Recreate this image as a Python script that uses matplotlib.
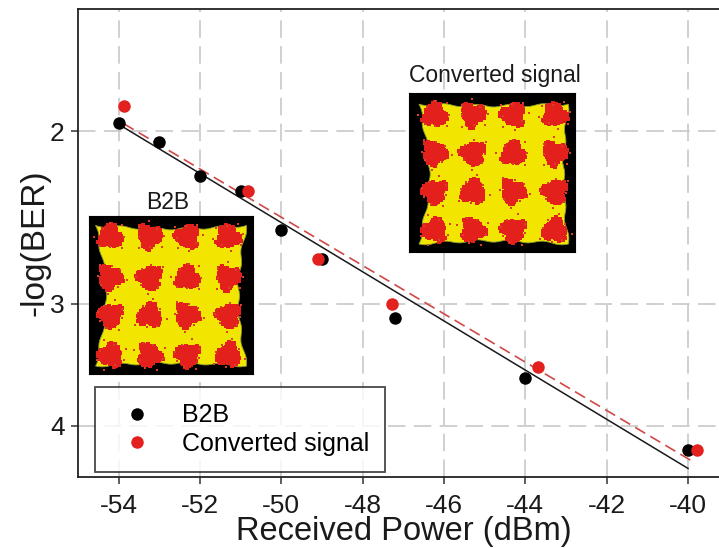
import numpy as np
import matplotlib
matplotlib.use('Agg')
import matplotlib.pyplot as plt
from matplotlib.patches import Polygon
from matplotlib.ticker import FixedLocator, FixedFormatter, NullLocator

# ---------------- data ----------------
b2b_power = [-54.0, -53.0, -52.0, -51.0, -50.0, -49.0, -47.2, -44.0, -40.0]
b2b_logber = [1.96, 2.05, 2.22, 2.30, 2.52, 2.70, 3.10, 3.57, 4.23]
conv_power = [-53.88, -50.81, -49.09, -47.29, -43.69, -39.79]
conv_logber = [1.886, 2.30, 2.70, 3.00, 3.485, 4.23]
b2b_fit_power = [-53.96, -40.0]
b2b_fit_logber = [1.972, 4.42]
conv_fit_power = [-53.88, -39.88]
conv_fit_logber = [1.964, 4.35]
xticks = [-54, -52, -50, -48, -46, -44, -42, -40]
yticks = [2, 3, 4]
ytick_labels = ['2', '3', '4']
series_labels = ['B2B', 'Converted signal']

plt.rcParams['font.family'] = ['Liberation Sans', 'DejaVu Sans']

W, H = 719, 548
fig = plt.figure(figsize=(W / 100, H / 100), dpi=100)
fig.patch.set_facecolor('white')

# main axes (extends slightly past the right edge, like the reference)
ax_l, ax_r, ax_t, ax_b = 78, 728.7, 9, 477
ax = fig.add_axes([ax_l / W, (H - ax_b) / H, (ax_r - ax_l) / W, (ax_b - ax_t) / H])

ax.set_yscale('log')
ax.set_xlim(-55, -39)
ax.set_ylim(4.51, 1.50)

ax.plot(b2b_fit_power, b2b_fit_logber, color='#1a1a1a', lw=1.1, zorder=3)
ax.plot(conv_fit_power, conv_fit_logber, color='#d04848', lw=1.2,
        linestyle=(0, (7, 3.5)), zorder=3)
ax.plot(b2b_power, b2b_logber, 'o', color='black', ms=9, mec='black', mew=0,
        zorder=4, label=series_labels[0])
ax.plot(conv_power, conv_logber, 'o', color='#e3211f', ms=9, mew=0,
        zorder=5, label=series_labels[1])

ax.xaxis.set_major_locator(FixedLocator(xticks))
ax.set_xticklabels([str(v) for v in xticks])
ax.yaxis.set_major_locator(FixedLocator(yticks))
ax.yaxis.set_major_formatter(FixedFormatter(ytick_labels))
ax.yaxis.set_minor_locator(NullLocator())

ax.grid(True, color='#c8c8c8', linestyle=(0, (10.5, 5)), linewidth=1.2, zorder=0)
ax.set_axisbelow(True)

for s in ['left', 'bottom', 'top', 'right']:
    ax.spines[s].set_color('#222222')
    ax.spines[s].set_linewidth(1.3)

ax.tick_params(axis='both', which='major', direction='out', length=5, width=1.1,
               color='#333333', labelsize=19, labelcolor='#1a1a1a', pad=4.5)
ax.tick_params(axis='x', pad=7.5)

ax.set_xlabel('Received Power (dBm)', fontsize=23.5, color='#1a1a1a', labelpad=-1.5)
ax.set_ylabel('-log(BER)', fontsize=24, color='#1a1a1a', labelpad=0)

leg = ax.legend(loc='lower left', bbox_to_anchor=((95 - ax_l) / (ax_r - ax_l), (ax_b - 472) / (ax_b - ax_t)),
                borderaxespad=0, fontsize=18, frameon=True, fancybox=False,
                edgecolor='#1a1a1a', labelspacing=0.16, borderpad=0.66,
                handlelength=2.0, handletextpad=0.8, markerscale=1.0)
leg.get_frame().set_linewidth(1.3)
leg.set_zorder(6)


# ---------------- constellation insets ----------------
def constellation(box, xs, ys, margins, pinch):
    x0, y0, x1, y1 = box  # pixel coords (top-left origin)
    a = fig.add_axes([x0 / W, (H - y1) / H, (x1 - x0) / W, (y1 - y0) / H])
    a.set_facecolor('black')
    a.set_xlim(0, 1)
    a.set_ylim(1, 0)
    a.set_xticks([])
    a.set_yticks([])
    for s in a.spines.values():
        s.set_color('black')
    ml, mt, mr, mb = margins
    pl, pt, pr, pb = pinch
    t = np.linspace(0, 1, 50)
    bump = np.sin(np.pi * t)
    wob = 0.008 * np.sin(9 * np.pi * t)
    top = np.column_stack([ml + (1 - ml - mr) * t, mt + pt * bump + wob])
    right = np.column_stack([1 - mr - pr * bump + wob, mt + (1 - mt - mb) * t])
    bottom = np.column_stack([1 - mr - (1 - ml - mr) * t, 1 - mb - pb * bump + wob])
    left = np.column_stack([ml + pl * bump + wob, 1 - mb - (1 - mt - mb) * t])
    poly = np.vstack([top, right, bottom, left])
    a.add_patch(Polygon(poly, closed=True, facecolor='#f2e600', edgecolor='#8a9a30',
                        lw=0.6, zorder=1))
    n = 110
    k = np.arange(n)
    golden = np.pi * (3 - np.sqrt(5))
    for i, cy in enumerate(ys):
        for j, cx in enumerate(xs):
            th = k * golden
            ph = 1.7 * i + 2.3 * j
            r = 0.068 * np.sqrt((k + 0.5) / n) * (1 + 0.22 * np.sin(3 * th + ph)
                                                   + 0.12 * np.cos(5 * th - ph))
            px = cx + r * np.cos(th)
            py = cy + r * np.sin(th)
            a.scatter(px, py, s=5, marker='s', color='#e3201c', linewidths=0, zorder=3)
            # a few stray points
            m = 8
            kk = np.arange(m)
            th2 = kk * 2 * np.pi / m + ph
            r2 = 0.085 + 0.02 * np.sin(kk * 2.1 + ph)
            a.scatter(cx + r2 * np.cos(th2), cy + r2 * np.sin(th2), s=4, marker='s',
                      color='#d8402a', linewidths=0, zorder=3)
    return a


constellation((89, 216, 253, 374), [0.13, 0.37, 0.60, 0.85], [0.13, 0.39, 0.63, 0.88],
              (0.04, 0.06, 0.04, 0.05), (0.06, 0.02, 0.05, 0.02))
constellation((409, 93, 575, 252), [0.155, 0.386, 0.628, 0.879], [0.137, 0.379, 0.621, 0.863],
              (0.06, 0.07, 0.04, 0.05), (0.06, 0.01, 0.03, 0.02))

fig.text(168 / W, (H - 209) / H, 'B2B', ha='center', va='baseline', fontsize=16.5,
         color='#1a1a1a')
fig.text(495 / W, (H - 82) / H, 'Converted signal', ha='center', va='baseline',
         fontsize=16.5, color='#1a1a1a')

fig.savefig('out.png', dpi=100)
